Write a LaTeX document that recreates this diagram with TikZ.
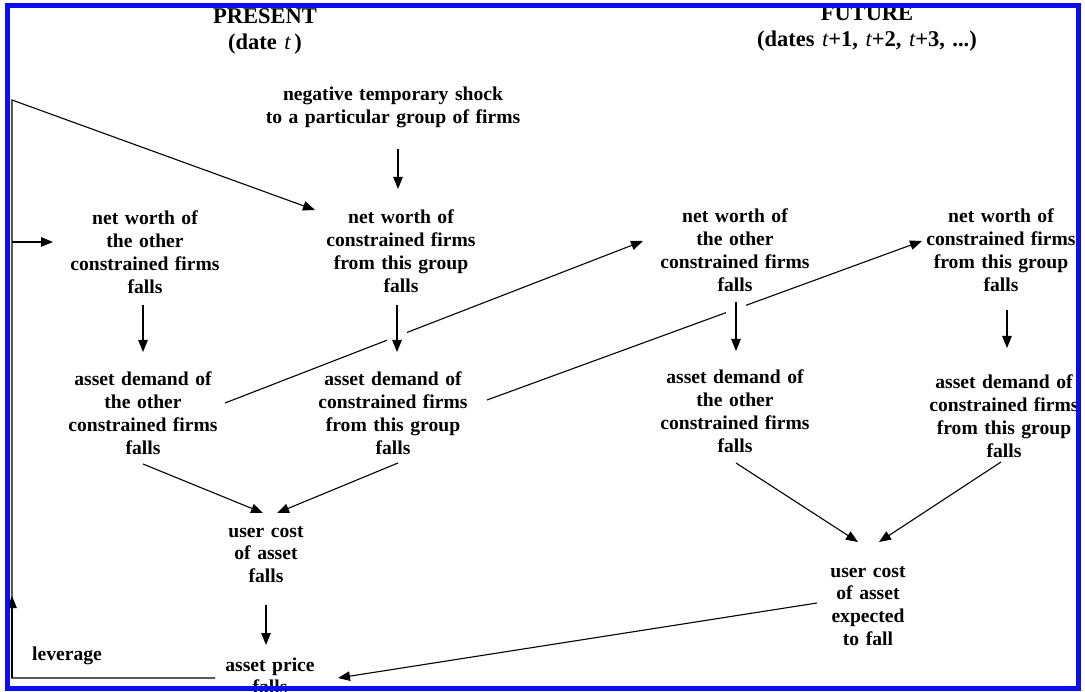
\documentclass[tikz,border=0pt]{standalone}
\usepackage{fontspec}
\setmainfont{Liberation Serif}
\usetikzlibrary{arrows.meta,calc}
\definecolor{frameblue}{RGB}{12,12,245}
\tikzset{
 txt/.style={font=\fontsize{19.6}{22.7}\selectfont\bfseries, align=center, text width=200pt, inner sep=0pt, anchor=base},
 ttl/.style={font=\fontsize{22.5}{26}\selectfont\bfseries, align=center, text width=320pt, inner sep=0pt, anchor=base},
 arr/.style={-{Triangle[length=12pt,width=9.5pt]}, line width=1.1pt},
 ln/.style={line width=1.1pt},
 halo/.style={preaction={draw=white, line width=20pt, -}}
}
\begin{document}
\begin{tikzpicture}[x=1pt,y=-1pt]
\path[use as bounding box] (0,0) rectangle (1085,692);
\clip (0,0) rectangle (1085,692);
\fill[white] (0,0) rectangle (1085,692);

\node[ttl] (present) at (265,24) {PRESENT\\(date {\mdseries\itshape t\,})};
\node[ttl] (future) at (867,21) {FUTURE\\(dates {\mdseries\itshape t}+1, {\mdseries\itshape t}+2, {\mdseries\itshape t}+3, ...)};

\node[txt, text width=280pt] (shock) at (393,101) {negative temporary shock\\to a particular group of firms};
\node[txt] (nwO) at (145,225) {net worth of\\the other\\constrained firms\\falls};
\node[txt] (nwC) at (401,224) {net worth of\\constrained firms\\from this group\\falls};
\node[txt] (adO) at (143,386) {asset demand of\\the other\\constrained firms\\falls};
\node[txt] (adC) at (393,386) {asset demand of\\constrained firms\\from this group\\falls};
\node[txt] (fnwO) at (735,223) {net worth of\\the other\\constrained firms\\falls};
\node[txt] (fnwC) at (1001,223) {net worth of\\constrained firms\\from this group\\falls};
\node[txt] (fadO) at (735,384) {asset demand of\\the other\\constrained firms\\falls};
\node[txt] (fadC) at (1004,389) {asset demand of\\constrained firms\\from this group\\falls};
\node[txt] (uc) at (266,537) {user cost\\of asset\\falls};
\node[txt] (ap) at (270,671) {asset price\\falls};
\node[txt] (ucE) at (868,577) {user cost\\of asset\\expected\\to fall};
\node[txt] (lev) at (67,660) {leverage};

\coordinate (cBL) at (12,678);
\coordinate (cTL) at (12,100);
\coordinate (cJ) at (12,242);
\coordinate (cUp) at (12,596);

% leverage feedback loop
\draw[arr, line join=miter] ([shift={(-55,7)}]ap.base) -- (cBL) -- (cTL) -- ([shift={(-86,-14)}]nwC.base);
\draw[arr] (cBL) -- (cUp);
\draw[arr] (cJ) -- ([shift={(-92,17)}]nwO.base);

% present column
\draw[arr] ([shift={(5,48)}]shock.base) -- ([shift={(-3,-35)}]nwC.base);
\draw[arr] ([shift={(-2,80)}]nwO.base) -- ([shift={(0,-34)}]adO.base);
\draw[arr] ([shift={(0,78)}]adO.base) -- ([shift={(-3,-24)}]uc.base);
\draw[arr] ([shift={(5,77)}]adC.base) -- ([shift={(11,-24)}]uc.base);
\draw[arr] ([shift={(0,68)}]uc.base) -- ([shift={(-4,-26)}]ap.base);

% present to future
\draw[arr] ([shift={(82,17)}]adO.base) -- ([shift={(-92,18)}]fnwO.base);
\draw[arr] ([shift={(94,14)}]adC.base) -- ([shift={(-79,18)}]fnwC.base);
\draw[arr, halo] ([shift={(-4,81)}]nwC.base) -- ([shift={(4,-34)}]adC.base);
\draw[arr, halo] ([shift={(1,79)}]fnwO.base) -- ([shift={(1,-33)}]fadO.base);

% future column
\draw[arr] ([shift={(6,87)}]fnwC.base) -- ([shift={(3,-41)}]fadC.base);
\draw[arr] ([shift={(1,79)}]fadO.base) -- ([shift={(-10,-35)}]ucE.base);
\draw[arr] ([shift={(-3,73)}]fadC.base) -- ([shift={(11,-35)}]ucE.base);
\draw[arr] ([shift={(-51,26)}]ucE.base) -- ([shift={(68,7)}]ap.base);

% frame
\draw[frameblue, line width=5.5pt] (7.5,5.5) rectangle (1078.5,688.5);
\end{tikzpicture}
\end{document}
